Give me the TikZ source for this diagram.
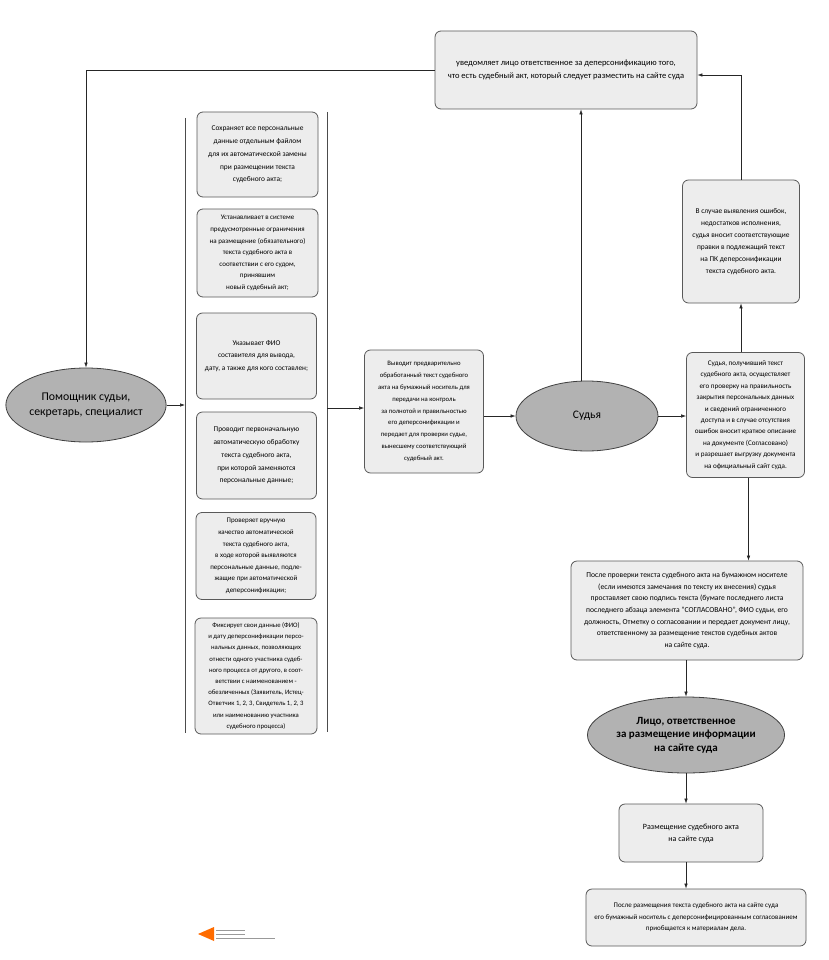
\documentclass[tikz,border=0pt]{standalone}
\usepackage{fontspec}
\setmainfont{Carlito}
\usetikzlibrary{shapes.geometric,arrows.meta}
\begin{document}
\begin{tikzpicture}[x=1pt,y=-1pt,
  box/.style={draw=black!65, fill=black!7, rounded corners=6pt, line width=0.8pt,
    align=center, inner sep=2pt, font=\fontsize{7.3}{12.8}\selectfont},
  oval/.style={ellipse, draw=black!75, fill=black!30, line width=0.8pt, align=center, inner sep=0pt},
  conn/.style={line width=0.6pt, black!85, -{Latex[length=5pt,width=3.5pt]}},
  brk/.style={line width=0.8pt, black!70}]
\useasboundingbox (0,0) rectangle (828,960);
\fill[white] (0,0) rectangle (828,960);

% top box
\node[box, minimum width=262pt, minimum height=78pt, font=\fontsize{8.5}{13.5}\selectfont] (top) at (566,70)
 {уведомляет лицо ответственное за деперсонификацию того,\\
  что есть судебный акт, который следует разместить на сайте суда};

% left ellipse
\node[oval, minimum width=140pt, minimum height=74pt, font=\fontsize{11.8}{15}\selectfont] (lell) at (86,405)
 {Помощник судьи,\\секретарь, специалист};

% bracket lines
\coordinate (brL) at (185,405);
\coordinate (brR) at (327,408);
\draw[brk] (185,118) -- (185,733);
\draw[brk] (327,112) -- (327,732);

% left column boxes
\node[box, minimum width=121pt, minimum height=85pt, font=\fontsize{7.4}{12.8}\selectfont] (b1) at (257.5,154.5)
 {Сохраняет все персональные\\данные отдельным файлом\\для их автоматической замены\\при размещении текста\\судебного акта;};
\node[box, minimum width=121pt, minimum height=88pt, font=\fontsize{7.0}{11.6}\selectfont] (b2) at (257.5,253)
 {Устанавливает в системе\\предусмотренные ограничения\\на размещение (обязательного)\\текста судебного акта в\\соответствии с его судом,\\принявшим\\новый судебный акт;};
\node[box, minimum width=120pt, minimum height=86pt, font=\fontsize{7.3}{12.8}\selectfont] (b3) at (256.5,356)
 {Указывает ФИО\\составителя для вывода,\\дату, а также для кого составлен;};
\node[box, minimum width=120pt, minimum height=87pt, font=\fontsize{7.4}{12.8}\selectfont] (b4) at (256.5,455.5)
 {Проводит первоначальную\\автоматическую обработку\\текста судебного акта,\\при которой заменяются\\персональные данные;};
\node[box, minimum width=120pt, minimum height=87pt, font=\fontsize{7.0}{11.6}\selectfont] (b5) at (256,556)
 {Проверяет вручную\\качество автоматической\\текста судебного акта,\\в ходе которой выявляются\\персональные данные, подле-\\жащие при автоматической\\деперсонификации;};
\node[box, minimum width=122pt, minimum height=116pt, font=\fontsize{6.7}{11.2}\selectfont] (b6) at (256,676)
 {Фиксирует свои данные (ФИО)\\и дату деперсонификации персо-\\нальных данных, позволяющих\\отнести одного участника судеб-\\ного процесса от другого, в соот-\\ветствии с наименованием -\\обезличенных (Заявитель, Истец-\\Ответчик 1, 2, 3, Свидетель 1, 2, 3\\или наименованию участника\\судебного процесса)};

% middle box
\node[box, minimum width=119pt, minimum height=123pt, font=\fontsize{6.7}{11.8}\selectfont] (mid) at (424,411.5)
 {Выводит предварительно\\обработанный текст судебного\\акта на бумажный носитель для\\передачи на контроль\\за полнотой и правильностью\\его деперсонификации и\\передает для проверки судье,\\вынесшему соответствующий\\судебный акт.};

% judge
\node[oval, minimum width=142pt, minimum height=70pt, font=\fontsize{11.5}{14}\selectfont] (judge) at (587,416) {Судья};

% right boxes
\node[box, minimum width=117pt, minimum height=123pt, font=\fontsize{7.4}{12}\selectfont] (r1) at (741,241.5)
 {В случае выявления ошибок,\\недостатков исполнения,\\судья вносит соответствующие\\правки в подлежащий текст\\на ПК деперсонификации\\текста судебного акта.};
\node[box, minimum width=118pt, minimum height=125pt, font=\fontsize{7.1}{11.4}\selectfont] (r2) at (745.5,415)
 {Судья, получивший текст\\судебного акта, осуществляет\\его проверку на правильность\\закрытия персональных данных\\и сведений ограниченного\\доступа и в случае отсутствия\\ошибок вносит краткое описание\\на документе (Согласовано)\\и разрешает выгрузку документа\\на официальный сайт суда.};

\node[box, minimum width=232pt, minimum height=99pt, font=\fontsize{7.6}{11.6}\selectfont] (bot) at (687,610.5)
 {После проверки текста судебного акта на бумажном носителе\\(если имеются замечания по тексту их внесения) судья\\проставляет свою подпись текста (бумаге последнего листа\\последнего абзаца элемента "СОГЛАСОВАНО", ФИО судьи, его\\должность, Отметку о согласовании и передает документ лицу,\\ответственному за размещение текстов судебных актов\\на сайте суда.};

\node[oval, minimum width=170pt, minimum height=76pt, font=\bfseries\fontsize{11}{13.5}\selectfont] (resp) at (686,735)
 {Лицо, ответственное\\за размещение информации\\на сайте суда};

\node[box, minimum width=144pt, minimum height=58pt, font=\fontsize{8}{12}\selectfont] (place) at (691,833)
 {Размещение судебного акта\\на сайте суда};

\node[box, minimum width=220pt, minimum height=57pt, font=\fontsize{7.0}{11.5}\selectfont] (last) at (696,917.5)
 {После размещения текста судебного акта на сайте суда\\его бумажный носитель с деперсонифицированным согласованием\\приобщается к материалам дела.};

% connectors
\draw[conn] (top.west) -| (lell.north);
\draw[conn] (lell.east) -- (brL);
\draw[conn] (brR) -- (brR -| mid.west);
\draw[conn] (mid.east |- judge.west) -- (judge.west);
\draw[conn] ([xshift=-6pt]judge.north) -- ([xshift=-6pt]judge.north |- top.south);
\draw[conn] (judge.east) -- (judge.east -| r2.west);
\draw[conn] (r1.south |- r2.north) -- (r1.south);
\draw[conn] (r1.north) |- ([yshift=-5pt]top.east);
\draw[conn] ([xshift=3pt]r2.south) -- ([xshift=3pt]r2.south |- bot.north);
\draw[conn] (resp.north |- bot.south) -- (resp.north);
\draw[conn] (resp.south) -- (resp.south |- place.north);
\draw[conn] (place.south -| resp.south) -- (resp.south |- last.north);

% small mark bottom left
\fill[orange!85!red] (198,934) -- (214,927) -- (214,941) -- cycle;
\draw[black!40, line width=0.8pt] (216,930) -- (245,930);
\draw[black!40, line width=0.8pt] (216,934) -- (245,934);
\draw[black!40, line width=0.8pt] (216,938) -- (275,938);
\end{tikzpicture}
\end{document}
